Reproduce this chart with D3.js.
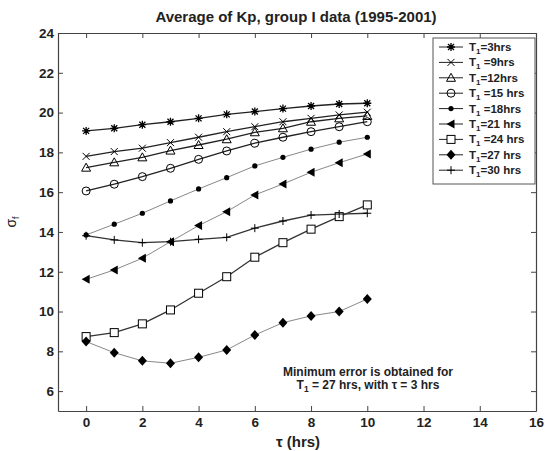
<!DOCTYPE html>
<html>
<head>
<meta charset="utf-8">
<script src="https://cdn.jsdelivr.net/npm/d3@7"></script>
<style>
  body { margin: 0; background: #fff; }
  text { font-family: "Liberation Sans", Arial, sans-serif; }
</style>
</head>
<body>
<div id="chart"></div>
<script>
// tau (hrs)
const tau = [0, 1, 2, 3, 4, 5, 6, 7, 8, 9, 10];

// sigma_f for each T1
const t3 = [19.08, 19.21, 19.39, 19.54, 19.71, 19.91, 20.05, 20.2, 20.33, 20.43, 20.47];
const t9 = [17.8, 18.04, 18.21, 18.49, 18.76, 19.04, 19.29, 19.54, 19.71, 19.88, 20.02];
const t12 = [17.23, 17.5, 17.75, 18.09, 18.37, 18.66, 19.01, 19.21, 19.54, 19.71, 19.83];
const t15 = [16.06, 16.4, 16.78, 17.2, 17.65, 18.07, 18.46, 18.76, 19.04, 19.29, 19.54];
const t18 = [13.85, 14.39, 14.94, 15.56, 16.16, 16.73, 17.32, 17.75, 18.16, 18.51, 18.76];
const t21 = [11.62, 12.09, 12.68, 13.51, 14.32, 15.02, 15.86, 16.41, 17.0, 17.48, 17.92];
const t24 = [8.74, 8.94, 9.38, 10.08, 10.92, 11.75, 12.73, 13.46, 14.14, 14.77, 15.36];
const t27 = [8.49, 7.93, 7.52, 7.4, 7.7, 8.07, 8.82, 9.44, 9.78, 10.0, 10.63];
const t30 = [13.81, 13.6, 13.46, 13.51, 13.63, 13.73, 14.19, 14.55, 14.85, 14.9, 14.94];

// legend text after "T" with subscript 1
const legendText = ['=3hrs', ' =9hrs', '=12hrs', ' =15 hrs', ' =18hrs', '=21 hrs', ' =24 hrs', '=27 hrs', '=30 hrs'];

const xTicks = [0, 2, 4, 6, 8, 10, 12, 14, 16];
const yTicks = [6, 8, 10, 12, 14, 16, 18, 20, 22, 24];

const series = [
  { values: t3, marker: 'asterisk', stroke: '#222' },
  { values: t9, marker: 'cross', stroke: '#222' },
  { values: t12, marker: 'triangle', stroke: '#222' },
  { values: t15, marker: 'circle', stroke: '#222' },
  { values: t18, marker: 'point', stroke: '#888' },
  { values: t21, marker: 'left', stroke: '#888' },
  { values: t24, marker: 'square', stroke: '#333' },
  { values: t27, marker: 'diamond', stroke: '#888' },
  { values: t30, marker: 'plus', stroke: '#333' },
];

const width = 545;
const height = 451;
const margin = { top: 33, left: 58, bottom: 40, right: 9 };

const svg = d3
  .select('#chart')
  .append('svg')
  .attr('width', width)
  .attr('height', height);

const x = d3.scaleLinear().domain([-1, 16]).range([margin.left, width - margin.right]);
const y = d3.scaleLinear().domain([5, 24]).range([height - margin.bottom, margin.top]);

// marker drawing
const drawMarker = (g, type, cx, cy) => {
  const s = 4;
  if (type === 'asterisk') {
    g.append('path')
      .attr('d', `M${cx - s},${cy}H${cx + s}M${cx},${cy - s}V${cy + s}M${cx - 3},${cy - 3}L${cx + 3},${cy + 3}M${cx - 3},${cy + 3}L${cx + 3},${cy - 3}`)
      .attr('stroke', '#000').attr('stroke-width', 1.3).attr('fill', 'none');
  } else if (type === 'cross') {
    g.append('path')
      .attr('d', `M${cx - 3.5},${cy - 3.5}L${cx + 3.5},${cy + 3.5}M${cx - 3.5},${cy + 3.5}L${cx + 3.5},${cy - 3.5}`)
      .attr('stroke', '#000').attr('stroke-width', 1).attr('fill', 'none');
  } else if (type === 'plus') {
    g.append('path')
      .attr('d', `M${cx - s},${cy}H${cx + s}M${cx},${cy - s}V${cy + s}`)
      .attr('stroke', '#000').attr('stroke-width', 1).attr('fill', 'none');
  } else if (type === 'triangle') {
    g.append('path')
      .attr('d', `M${cx},${cy - 4.5}L${cx + 4.5},${cy + 3.5}L${cx - 4.5},${cy + 3.5}Z`)
      .attr('stroke', '#000').attr('stroke-width', 1).attr('fill', 'none');
  } else if (type === 'circle') {
    g.append('circle').attr('cx', cx).attr('cy', cy).attr('r', 4)
      .attr('stroke', '#000').attr('stroke-width', 1).attr('fill', 'none');
  } else if (type === 'point') {
    g.append('circle').attr('cx', cx).attr('cy', cy).attr('r', 2.6).attr('fill', '#000');
  } else if (type === 'left') {
    g.append('path')
      .attr('d', `M${cx - 4.5},${cy}L${cx + 3.5},${cy - 4.5}L${cx + 3.5},${cy + 4.5}Z`)
      .attr('fill', '#000');
  } else if (type === 'square') {
    g.append('rect').attr('x', cx - 4).attr('y', cy - 4).attr('width', 8).attr('height', 8)
      .attr('stroke', '#000').attr('stroke-width', 1).attr('fill', '#fff');
  } else if (type === 'diamond') {
    g.append('path')
      .attr('d', `M${cx},${cy - 5}L${cx + 4.5},${cy}L${cx},${cy + 5}L${cx - 4.5},${cy}Z`)
      .attr('fill', '#000');
  }
};

// axes box with inward ticks (matlab style)
const x0 = x.range()[0], x1 = x.range()[1];
const y0 = y.range()[0], y1 = y.range()[1];

svg.append('g')
  .attr('transform', `translate(0, ${y0})`)
  .call(d3.axisBottom(x).tickValues(xTicks).tickSize(-5).tickSizeOuter(0).tickPadding(6))
  .call((g) => g.selectAll('.tick text').attr('font-size', 13.5).attr('font-weight', 'bold').attr('fill', '#222'));

svg.append('g')
  .attr('transform', `translate(0, ${y1})`)
  .call(d3.axisTop(x).tickValues(xTicks).tickSize(-5).tickSizeOuter(0).tickFormat(''));

svg.append('g')
  .attr('transform', `translate(${x0}, 0)`)
  .call(d3.axisLeft(y).tickValues(yTicks).tickSize(-5).tickSizeOuter(0).tickPadding(4))
  .call((g) => g.selectAll('.tick text').attr('font-size', 13.5).attr('font-weight', 'bold').attr('fill', '#222'));

svg.append('g')
  .attr('transform', `translate(${x1}, 0)`)
  .call(d3.axisRight(y).tickValues(yTicks).tickSize(-5).tickSizeOuter(0).tickFormat(''));

svg.selectAll('.domain').attr('stroke', '#444').attr('stroke-width', 1.2);
svg.selectAll('.tick line').attr('stroke', '#444');

// lines
const line = d3
  .line()
  .x((d, i) => x(tau[i]))
  .y((d) => y(d));

series.forEach((s) => {
  svg.append('path')
    .datum(s.values)
    .attr('fill', 'none')
    .attr('stroke', s.stroke)
    .attr('stroke-width', s.stroke === '#888' ? 1 : 1.3)
    .attr('d', line);
});

series.forEach((s) => {
  const g = svg.append('g');
  s.values.forEach((v, i) => drawMarker(g, s.marker, x(tau[i]), y(v)));
});

// legend
const legend = svg.append('g');
legend.append('rect')
  .attr('x', 433).attr('y', 38).attr('width', 102).attr('height', 146)
  .attr('fill', '#fff').attr('stroke', '#555').attr('stroke-width', 1);

series.forEach((s, i) => {
  const ly = 47 + i * 15.4;
  legend.append('line')
    .attr('x1', 439).attr('x2', 463).attr('y1', ly).attr('y2', ly)
    .attr('stroke', '#222').attr('stroke-width', 1);
  drawMarker(legend, s.marker, 451, ly);
  const t = legend.append('text')
    .attr('x', 469).attr('y', ly + 4)
    .attr('font-size', 11.5).attr('font-weight', 'bold').attr('fill', '#222');
  t.append('tspan').text('T');
  t.append('tspan').attr('dy', 3).attr('font-size', 8).text('1');
  t.append('tspan').attr('dy', -3).text(legendText[i]);
});

// title and labels
svg.append('text')
  .attr('x', 296).attr('y', 22)
  .attr('text-anchor', 'middle')
  .attr('font-size', 15).attr('font-weight', 'bold').attr('fill', '#222')
  .text('Average of Kp, group I data (1995-2001)');

svg.append('text')
  .attr('x', 298).attr('y', 447)
  .attr('text-anchor', 'middle')
  .attr('font-size', 15).attr('font-weight', 'bold').attr('fill', '#222')
  .text('τ (hrs)');

const yl = svg.append('text')
  .attr('transform', `translate(16, ${(y0 + y1) / 2}) rotate(-90)`)
  .attr('text-anchor', 'middle')
  .attr('font-size', 14).attr('fill', '#222');
yl.append('tspan').text('σ');
yl.append('tspan').attr('dy', 3).attr('font-size', 9).text('f');

// annotation
const note = svg.append('g').attr('font-size', 12).attr('font-weight', 'bold').attr('fill', '#222');
note.append('text')
  .attr('x', 368).attr('y', 376).attr('text-anchor', 'middle')
  .text('Minimum error is obtained for');
const n2 = note.append('text')
  .attr('x', 368).attr('y', 389).attr('text-anchor', 'middle');
n2.append('tspan').text('T');
n2.append('tspan').attr('dy', 3).attr('font-size', 8.5).text('1');
n2.append('tspan').attr('dy', -3).text(' = 27 hrs, with τ = 3 hrs');
</script>
</body>
</html>
